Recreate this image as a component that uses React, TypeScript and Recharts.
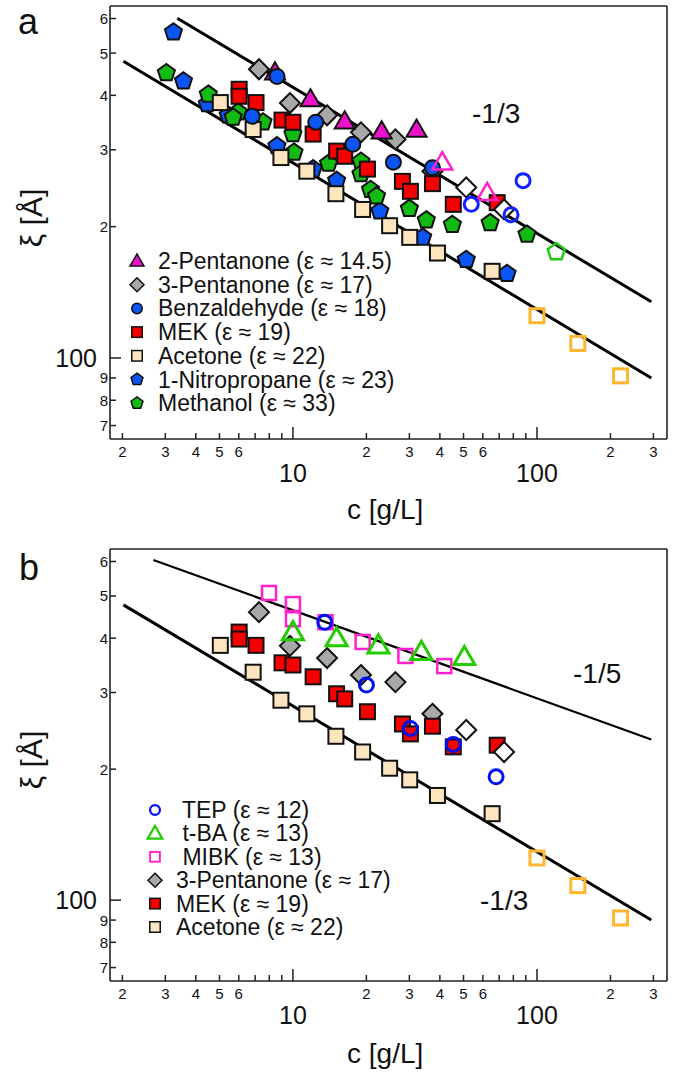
import React from 'react';
import { ScatterChart, Scatter, XAxis, YAxis, ReferenceLine } from 'recharts';

// c [g/L] and xi [Å], one pair of arrays per solvent
const acetoneC = [5.04, 6.87, 8.93, 11.4, 15.0, 19.3, 24.9, 30.1, 39.1, 65.5];
const acetoneXi = [385, 334, 288, 268, 238, 219, 201, 189, 174, 158];
const acetoneOpenC = [100, 147, 220];
const acetoneOpenXi = [125, 108, 91];

const mekC = [6.02, 6.02, 7.06, 9.02, 10.0, 12.1, 15.1, 16.3, 20.2, 28.1, 30.3, 37.3, 45.4, 68.7];
const mekXi = [413, 398, 385, 351, 347, 326, 298, 290, 271, 254, 241, 251, 225, 227];

const pent3C = [7.26, 9.72, 13.8, 19.0, 26.3, 37.3];
const pent3Xi = [459, 384, 360, 329, 317, 268];
const pent3OpenC = [51.3, 73.3];
const pent3OpenXi = [246, 219];

const pent2C = [8.44, 11.8, 16.3, 23.1, 32.1];
const pent2Xi = [452, 392, 349, 331, 334];
const pent2OpenC = [40.9, 62.5];
const pent2OpenXi = [281, 239];

const benzC = [8.61, 6.81, 12.4, 17.6, 25.8, 37.3];
const benzXi = [442, 358, 347, 309, 281, 273];
const benzOpenC = [53.8, 78.3, 87.7];
const benzOpenXi = [225, 213, 255];

const nitroC = [3.24, 3.56, 4.46, 5.43, 8.6, 12.1, 15.1, 22.7, 34.0, 51.3, 75.4];
const nitroXi = [558, 431, 382, 360, 306, 271, 255, 217, 189, 168, 156];

const methC = [3.03, 4.5, 5.96, 5.69, 7.54, 10.0, 10.1, 14.0, 19.0, 19.0, 20.8, 22.0, 30.0, 35.2, 45.0, 64.3, 91.0];
const methXi = [450, 402, 366, 356, 347, 326, 296, 279, 282, 264, 243, 235, 220, 207, 202, 204, 192];
const methOpenC = [120];
const methOpenXi = [175];

const tepC = [13.5, 20.0, 30.3, 45.4, 68.0];
const tepXi = [435, 312, 248, 228, 192];
const tbaC = [10.0, 15.1, 22.4, 33.6, 50.4];
const tbaXi = [413, 400, 385, 372, 362];
const mibkC = [7.98, 10.0, 10.0, 13.6, 19.3, 28.9, 41.7];
const mibkXi = [508, 479, 442, 435, 392, 364, 345];

// power-law guide lines, end points
const lineA1 = { c: [3.36, 294], xi: [601, 134.5] };
const lineA2 = { c: [2.02, 294], xi: [479, 90] };
const lineB1 = { c: [2.68, 294], xi: [605, 234] };
const lineB2 = { c: [2.02, 294], xi: [477, 90] };

const X_TICKS = [2, 3, 4, 5, 6, 7, 8, 9, 10, 20, 30, 40, 50, 60, 70, 80, 90, 100, 200, 300];
const Y_TICKS = [70, 80, 90, 100, 200, 300, 400, 500, 600];
const X_DOMAIN = [1.78, 341];
const Y_DOMAIN = [65.2, 641];

const FONT = '"Liberation Sans", Arial, Helvetica, sans-serif';
const AXIS = '#222';

type Pt = { x: number; y: number };
const zip = (c: number[], xi: number[]): Pt[] => c.map((v, i) => ({ x: v, y: xi[i] }));

type Kind = 'circle' | 'square' | 'triangle' | 'diamond' | 'pentagon';
interface Mk { kind: Kind; fill: string; stroke: string; sw: number; size: number }

const drawMarker = (s: Mk, cx: number, cy: number, k = 1) => {
  const h = (s.size * k) / 2;
  const p = { fill: s.fill, stroke: s.stroke, strokeWidth: k < 1 ? Math.max(1.4, s.sw * 0.75) : s.sw, strokeLinejoin: 'miter' as const };
  if (s.kind === 'circle') return <circle cx={cx} cy={cy} r={h} {...p} />;
  if (s.kind === 'square') return <rect x={cx - h} y={cy - h} width={2 * h} height={2 * h} {...p} />;
  if (s.kind === 'diamond')
    return <polygon points={`${cx},${cy - h} ${cx + h},${cy} ${cx},${cy + h} ${cx - h},${cy}`} {...p} />;
  if (s.kind === 'triangle')
    return <polygon points={`${cx},${cy - h} ${cx + h},${cy + 0.72 * h} ${cx - h},${cy + 0.72 * h}`} {...p} />;
  const pts = [0, 1, 2, 3, 4]
    .map((i) => {
      const a = (-90 + i * 72) * (Math.PI / 180);
      return `${cx + h * Math.cos(a)},${cy + h * Math.sin(a)}`;
    })
    .join(' ');
  return <polygon points={pts} {...p} />;
};

const BLK = '#111';
const mTri: Mk = { kind: 'triangle', fill: '#ee11cc', stroke: BLK, sw: 2, size: 20 };
const mDia: Mk = { kind: 'diamond', fill: '#a8a8a8', stroke: BLK, sw: 2, size: 20 };
const mCirc: Mk = { kind: 'circle', fill: '#0b55f5', stroke: BLK, sw: 2, size: 15 };
const mMek: Mk = { kind: 'square', fill: '#f50000', stroke: BLK, sw: 2, size: 15 };
const mAce: Mk = { kind: 'square', fill: '#fde6bf', stroke: BLK, sw: 2, size: 15 };
const mNitro: Mk = { kind: 'pentagon', fill: '#0b55f5', stroke: BLK, sw: 2, size: 18 };
const mMeth: Mk = { kind: 'pentagon', fill: '#12bb12', stroke: BLK, sw: 2, size: 18 };
const mAceOpen: Mk = { kind: 'square', fill: 'none', stroke: '#ffb52e', sw: 3, size: 14 };
const mDiaOpen: Mk = { kind: 'diamond', fill: '#fff', stroke: BLK, sw: 2, size: 20 };
const mTriOpen: Mk = { kind: 'triangle', fill: 'none', stroke: '#ff22cc', sw: 2.5, size: 20 };
const mCircOpen: Mk = { kind: 'circle', fill: 'none', stroke: '#1122ff', sw: 3, size: 14 };
const mMethOpen: Mk = { kind: 'pentagon', fill: 'none', stroke: '#22cc11', sw: 2.5, size: 18 };
const mTep: Mk = { kind: 'circle', fill: 'none', stroke: '#0011ee', sw: 3, size: 14 };
const mTba: Mk = { kind: 'triangle', fill: 'none', stroke: '#22cc00', sw: 3, size: 21 };
const mMibk: Mk = { kind: 'square', fill: 'none', stroke: '#ff22cc', sw: 2.5, size: 14 };

const seriesA = [
  { id: 'nitro', data: zip(nitroC, nitroXi), m: mNitro },
  { id: 'meth', data: zip(methC, methXi), m: mMeth },
  { id: 'ace', data: zip(acetoneC, acetoneXi), m: mAce },
  { id: 'pent3', data: zip(pent3C, pent3Xi), m: mDia },
  { id: 'mek', data: zip(mekC, mekXi), m: mMek },
  { id: 'pent2', data: zip(pent2C, pent2Xi), m: mTri },
  { id: 'benz', data: zip(benzC, benzXi), m: mCirc },
  { id: 'aceOpen', data: zip(acetoneOpenC, acetoneOpenXi), m: mAceOpen },
  { id: 'pent3Open', data: zip(pent3OpenC, pent3OpenXi), m: mDiaOpen },
  { id: 'pent2Open', data: zip(pent2OpenC, pent2OpenXi), m: mTriOpen },
  { id: 'benzOpen', data: zip(benzOpenC, benzOpenXi), m: mCircOpen },
  { id: 'methOpen', data: zip(methOpenC, methOpenXi), m: mMethOpen },
];

const seriesB = [
  { id: 'ace', data: zip(acetoneC, acetoneXi), m: mAce },
  { id: 'pent3', data: zip(pent3C, pent3Xi), m: mDia },
  { id: 'mek', data: zip(mekC, mekXi), m: mMek },
  { id: 'mibk', data: zip(mibkC, mibkXi), m: mMibk },
  { id: 'tba', data: zip(tbaC, tbaXi), m: mTba },
  { id: 'aceOpen', data: zip(acetoneOpenC, acetoneOpenXi), m: mAceOpen },
  { id: 'pent3Open', data: zip(pent3OpenC, pent3OpenXi), m: mDiaOpen },
  { id: 'tep', data: zip(tepC, tepXi), m: mTep },
];

const legendA = [
  { label: '2-Pentanone (ε ≈ 14.5)', m: mTri },
  { label: '3-Pentanone (ε ≈ 17)', m: mDia },
  { label: 'Benzaldehyde (ε ≈ 18)', m: mCirc },
  { label: 'MEK (ε ≈ 19)', m: mMek },
  { label: 'Acetone (ε ≈ 22)', m: mAce },
  { label: '1-Nitropropane (ε ≈ 23)', m: mNitro },
  { label: 'Methanol (ε ≈ 33)', m: mMeth },
];

const legendB = [
  { label: ' TEP (ε ≈ 12)', m: mTep },
  { label: ' t-BA (ε ≈ 13)', m: mTba },
  { label: ' MIBK (ε ≈ 13)', m: mMibk },
  { label: '3-Pentanone (ε ≈ 17)', m: mDia },
  { label: 'MEK (ε ≈ 19)', m: mMek },
  { label: 'Acetone (ε ≈ 22)', m: mAce },
];

const leadDigit = (v: number) => Math.round(v / Math.pow(10, Math.floor(Math.log10(v) + 1e-9)));

const XTickBottom = (props: any) => {
  const { x, y, payload } = props;
  const v = payload.value;
  const major = v === 10 || v === 100;
  const d = leadDigit(v);
  return (
    <g>
      <line x1={x} y1={y} x2={x} y2={y - (major ? 12 : 6)} stroke={AXIS} strokeWidth={1.5} />
      {major ? (
        <text x={x} y={y + 43} textAnchor="middle" fontSize={25} fontFamily={FONT} fill="#111">{v}</text>
      ) : d <= 6 ? (
        <text x={x} y={y + 18} textAnchor="middle" fontSize={15} fontFamily={FONT} fill="#111">{d}</text>
      ) : null}
    </g>
  );
};

const XTickTop = (props: any) => {
  const { x, y, payload } = props;
  const major = payload.value === 10 || payload.value === 100;
  return <line x1={x} y1={y} x2={x} y2={y + (major ? 11 : 6)} stroke={AXIS} strokeWidth={1.5} />;
};

const YTickLeft = (props: any) => {
  const { x, y, payload } = props;
  const v = payload.value;
  const major = v === 100;
  return (
    <g>
      <line x1={x} y1={y} x2={x + (major ? 11 : 6)} y2={y} stroke={AXIS} strokeWidth={1.5} />
      <text
        x={major ? x - 13 : x - 2}
        y={y + (major ? 9 : 5.5)}
        textAnchor="end"
        fontSize={major ? 25 : 15}
        fontFamily={FONT}
        fill="#111"
      >
        {major ? '100' : leadDigit(v)}
      </text>
    </g>
  );
};

const YTickRight = (props: any) => {
  const { x, y, payload } = props;
  const major = payload.value === 100;
  return <line x1={x} y1={y} x2={x - (major ? 11 : 7)} y2={y} stroke={AXIS} strokeWidth={1.5} />;
};

type Line = { c: number[]; xi: number[] };

const Panel = ({ series, lines, top, xh }: { series: typeof seriesA; lines: { l: Line; w: number }[]; top: number; xh: number }) => (
  <ScatterChart width={680} height={536} margin={{ top, right: 13, bottom: 0, left: 0 }}>
    <XAxis
      xAxisId="b"
      type="number"
      dataKey="x"
      scale="log"
      domain={X_DOMAIN}
      allowDataOverflow
      ticks={X_TICKS}
      interval={0}
      height={xh}
      axisLine={false}
      tickLine={false}
      tickSize={0}
      tickMargin={0}
      tick={(p: any) => <XTickBottom {...p} />}
    />
    <XAxis
      xAxisId="t"
      orientation="top"
      type="number"
      scale="log"
      domain={X_DOMAIN}
      allowDataOverflow
      ticks={X_TICKS}
      interval={0}
      height={0}
      axisLine={false}
      tickLine={false}
      tickSize={0}
      tickMargin={0}
      tick={(p: any) => <XTickTop {...p} />}
    />
    <YAxis
      yAxisId="l"
      type="number"
      dataKey="y"
      scale="log"
      domain={Y_DOMAIN}
      allowDataOverflow
      ticks={Y_TICKS}
      interval={0}
      width={110}
      axisLine={false}
      tickLine={false}
      tickSize={0}
      tickMargin={0}
      tick={(p: any) => <YTickLeft {...p} />}
    />
    <YAxis
      yAxisId="r"
      orientation="right"
      type="number"
      scale="log"
      domain={Y_DOMAIN}
      allowDataOverflow
      ticks={Y_TICKS}
      interval={0}
      width={0}
      axisLine={false}
      tickLine={false}
      tickSize={0}
      tickMargin={0}
      tick={(p: any) => <YTickRight {...p} />}
    />
    {series.map((s) => (
      <Scatter
        key={s.id}
        xAxisId="b"
        yAxisId="l"
        data={s.data}
        isAnimationActive={false}
        shape={(p: any) => drawMarker(s.m, p.cx, p.cy)}
      />
    ))}
    {lines.map((ln, i) => (
      <ReferenceLine
        key={i}
        xAxisId="b"
        yAxisId="l"
        segment={[
          { x: ln.l.c[0], y: ln.l.xi[0] },
          { x: ln.l.c[1], y: ln.l.xi[1] },
        ]}
        stroke="#000"
        strokeWidth={ln.w}
        ifOverflow="visible"
      />
    ))}
    {/* plot frame on the domain edges */}
    {X_DOMAIN.map((v) => (
      <ReferenceLine key={'fx' + v} xAxisId="b" yAxisId="l" x={v} stroke={AXIS} strokeWidth={1.6} ifOverflow="visible" />
    ))}
    {Y_DOMAIN.map((v) => (
      <ReferenceLine key={'fy' + v} xAxisId="b" yAxisId="l" y={v} stroke={AXIS} strokeWidth={1.6} ifOverflow="visible" />
    ))}
  </ScatterChart>
);

const Legend = ({ items, mx, tx, y0, dy }: { items: typeof legendA; mx: number; tx: number; y0: number; dy: number }) => (
  <g>
    {items.map((it, i) => {
      const cy = y0 + i * dy;
      return (
        <g key={it.label}>
          {drawMarker(it.m, mx, cy, 0.7)}
          <text x={tx} y={cy + 8} fontSize={23} fontFamily={FONT} fill="#111" style={{ whiteSpace: 'pre' }}>
            {it.label}
          </text>
        </g>
      );
    })}
  </g>
);

export default function App() {
  return (
    <div style={{ position: 'absolute', left: 0, top: 0, width: 680, height: 1072, background: '#fff' }}>
      <div style={{ position: 'absolute', left: 0, top: 0 }}>
        <Panel series={seriesA} lines={[{ l: lineA1, w: 3 }, { l: lineA2, w: 3 }]} top={6} xh={97} />
      </div>
      <div style={{ position: 'absolute', left: 0, top: 536 }}>
        <Panel series={seriesB} lines={[{ l: lineB1, w: 2.2 }, { l: lineB2, w: 3 }]} top={13} xh={91} />
      </div>
      <svg width={680} height={1072} style={{ position: 'absolute', left: 0, top: 0, pointerEvents: 'none' }}>
        <g fontFamily={FONT} fill="#111">
          <text x={18} y={34} fontSize={36}>a</text>
          <text x={19} y={580} fontSize={36}>b</text>
          <text transform="translate(42,218) rotate(-90)" textAnchor="middle" fontSize={30}>ξ [Å]</text>
          <text transform="translate(42,760) rotate(-90)" textAnchor="middle" fontSize={30}>ξ [Å]</text>
          <text x={347} y={519} fontSize={28}>c [g/L]</text>
          <text x={347} y={1063} fontSize={28}>c [g/L]</text>
          <text x={472} y={123} fontSize={28}>-1/3</text>
          <text x={573} y={683} fontSize={28}>-1/5</text>
          <text x={480} y={910} fontSize={28}>-1/3</text>
        </g>
        <Legend items={legendA} mx={137} tx={158} y0={261} dy={23.7} />
        <Legend items={legendB} mx={155} tx={176} y0={810} dy={23.4} />
      </svg>
    </div>
  );
}
